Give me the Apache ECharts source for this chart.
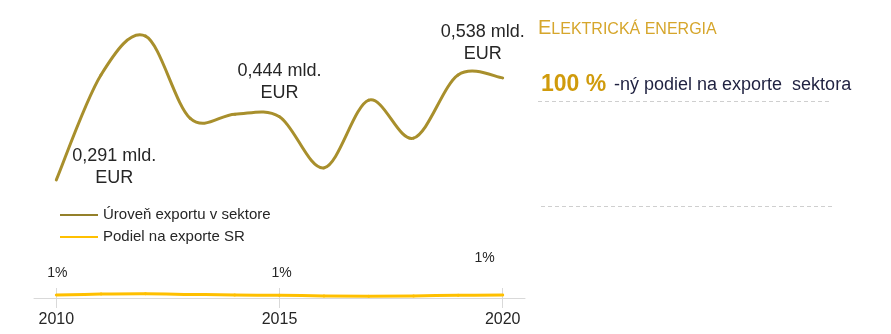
<!DOCTYPE html>
<html>
<head>
<meta charset="utf-8">
<script src="https://cdn.jsdelivr.net/npm/echarts@6/dist/echarts.min.js"></script>
<style>
html,body{margin:0;padding:0;background:#fff;}
#chart{width:891px;height:334px;}
</style>
</head>
<body>
<div id="chart"></div>
<script>
// ---- data ----
const years = [2010, 2011, 2012, 2013, 2014, 2015, 2016, 2017, 2018, 2019, 2020];
const exportLevel = [0.291, 0.545, 0.639, 0.44, 0.45, 0.444, 0.32, 0.484, 0.392, 0.545, 0.538]; // mld. EUR
const exportShare = [1.0, 1.3, 1.4, 1.2, 1.0, 0.9, 0.7, 0.6, 0.7, 0.9, 1.0]; // % of SR exports
const tickYears = [2010, 2015, 2020];
const labeledYears = [2010, 2015, 2020];
const seriesNames = ['Úroveň exportu v sektore', 'Podiel na exporte SR'];
const panelTitleFirst = 'E';
const panelTitleRest = 'LEKTRICKÁ ENERGIA';
const panelValue = '100 %';
const panelValueText = '-ný podiel na exporte  sektora';

// ---- styling ----
const levelColor = '#A88F2C';
const shareColor = '#FFC000';
const textColor = '#262626';
const font = 'Liberation Sans';

const levelLabelOffsets = {2010: [58, 14], 2015: [0, -8], 2020: [-20, -8]};
const shareLabelOffsets = {2010: [1, -9], 2015: [2, -9], 2020: [-18, -24]};

function buildData(values, offsets, formatter, fontSize, lineHeight) {
  return years.map((y, i) => {
    const item = {value: [y, values[i]]};
    if (labeledYears.includes(y)) {
      item.label = {
        show: true, position: 'top', offset: offsets[y], formatter,
        fontFamily: font, fontSize, lineHeight, color: textColor, align: 'center'
      };
    }
    return item;
  });
}
const levelData = buildData(exportLevel, levelLabelOffsets,
  p => p.value[1].toFixed(3).replace('.', ',') + ' mld.\nEUR', 18, 22);
const shareData = buildData(exportShare, shareLabelOffsets,
  p => Math.round(p.value[1]) + '%', 14, 16);

// Excel-like smoothed curve (Catmull-Rom -> Bezier), positions via api.coord
function smoothSegment(values, color, width) {
  return function (params, api) {
    const i = params.dataIndex;
    if (i >= years.length - 1) return null;
    const P = k => {
      const kk = Math.max(0, Math.min(years.length - 1, k));
      return api.coord([years[kk], values[kk]]);
    };
    const p0 = P(i - 1), p1 = P(i), p2 = P(i + 1), p3 = P(i + 2);
    const t = 1 / 6;
    return {
      type: 'bezierCurve',
      shape: {
        x1: p1[0], y1: p1[1], x2: p2[0], y2: p2[1],
        cpx1: p1[0] + (p2[0] - p0[0]) * t, cpy1: p1[1] + (p2[1] - p0[1]) * t,
        cpx2: p2[0] - (p3[0] - p1[0]) * t, cpy2: p2[1] - (p3[1] - p1[1]) * t
      },
      style: {stroke: color, lineWidth: width, fill: null, lineCap: 'round'}
    };
  };
}

const chart = echarts.init(document.getElementById('chart'), null, {renderer: 'canvas'});
const xMin = 2009.5, xMax = 2020.5;
chart.setOption({
  backgroundColor: '#fff',
  animation: false,
  textStyle: {fontFamily: font},
  grid: [
    {left: 34, right: 366, top: 11, bottom: 34},
    {left: 34, right: 366, top: 238, bottom: 36}
  ],
  legend: {
    left: 60, top: 204, orient: 'vertical', padding: 0,
    icon: 'rect', itemWidth: 38, itemHeight: 2, itemGap: 0,
    textStyle: {fontFamily: font, fontSize: 15, color: textColor, lineHeight: 22},
    data: [
      {name: seriesNames[0], itemStyle: {color: '#94802A'}},
      {name: seriesNames[1], itemStyle: {color: shareColor}}
    ]
  },
  xAxis: [
    {gridIndex: 0, type: 'value', min: xMin, max: xMax, show: false},
    {gridIndex: 1, type: 'value', min: xMin, max: xMax,
     axisLine: {show: true, lineStyle: {color: '#d9d9d9', width: 1}},
     axisTick: {show: true, length: 10, customValues: tickYears, lineStyle: {color: '#d9d9d9'}},
     axisLabel: {show: true, customValues: tickYears, margin: 14, fontFamily: font, fontSize: 16, color: textColor,
                 formatter: v => String(v)},
     splitLine: {show: false}},
    {gridIndex: 1, type: 'value', min: xMin, max: xMax, position: 'bottom',
     axisLine: {show: false},
     axisTick: {show: true, inside: true, length: 10, customValues: tickYears, lineStyle: {color: '#d9d9d9'}},
     axisLabel: {show: false}, splitLine: {show: false}}
  ],
  yAxis: [
    {gridIndex: 0, type: 'value', min: 0, max: 0.7, show: false},
    {gridIndex: 1, type: 'value', min: 0, max: 20, show: false}
  ],
  series: [
    {name: seriesNames[0], type: 'custom', xAxisIndex: 0, yAxisIndex: 0, clip: false,
     renderItem: smoothSegment(exportLevel, levelColor, 3),
     data: years.map((y, i) => [y, exportLevel[i]]), z: 2},
    {name: seriesNames[0], type: 'line', xAxisIndex: 0, yAxisIndex: 0,
     data: levelData, symbol: 'circle', symbolSize: 0, showSymbol: true,
     itemStyle: {color: levelColor}, lineStyle: {width: 0, opacity: 0}, z: 3},
    {name: seriesNames[1], type: 'custom', xAxisIndex: 1, yAxisIndex: 1, clip: false,
     renderItem: smoothSegment(exportShare, shareColor, 3),
     data: years.map((y, i) => [y, exportShare[i]]), z: 2},
    {name: seriesNames[1], type: 'line', xAxisIndex: 1, yAxisIndex: 1,
     data: shareData, symbol: 'circle', symbolSize: 0, showSymbol: true,
     itemStyle: {color: shareColor}, lineStyle: {width: 0, opacity: 0}, z: 3}
  ],
  graphic: [
    {type: 'text', left: 538, top: 18, style: {
      text: '{a|' + panelTitleFirst + '}{b|' + panelTitleRest + '}',
      rich: {
        a: {fontFamily: font, fontSize: 20, fill: '#D6A62C', verticalAlign: 'bottom'},
        b: {fontFamily: font, fontSize: 16, fill: '#D6A62C', verticalAlign: 'bottom'}
      }}},
    {type: 'text', x: 541, y: 84.5, style: {text: panelValue, fontFamily: font, fontSize: 23, fontWeight: 'bold',
      fill: '#D09B0C', verticalAlign: 'middle'}},
    {type: 'text', x: 614, y: 84.6, style: {text: panelValueText, fontFamily: font, fontSize: 18,
      fill: '#1f2140', verticalAlign: 'middle'}},
    {type: 'line', shape: {x1: 538, y1: 101.5, x2: 830, y2: 101.5}, style: {stroke: '#cfcfcf', lineWidth: 1, lineDash: [4, 3]}},
    {type: 'line', shape: {x1: 541, y1: 206.5, x2: 833, y2: 206.5}, style: {stroke: '#cfcfcf', lineWidth: 1, lineDash: [4, 3]}}
  ]
});
</script>
</body>
</html>
